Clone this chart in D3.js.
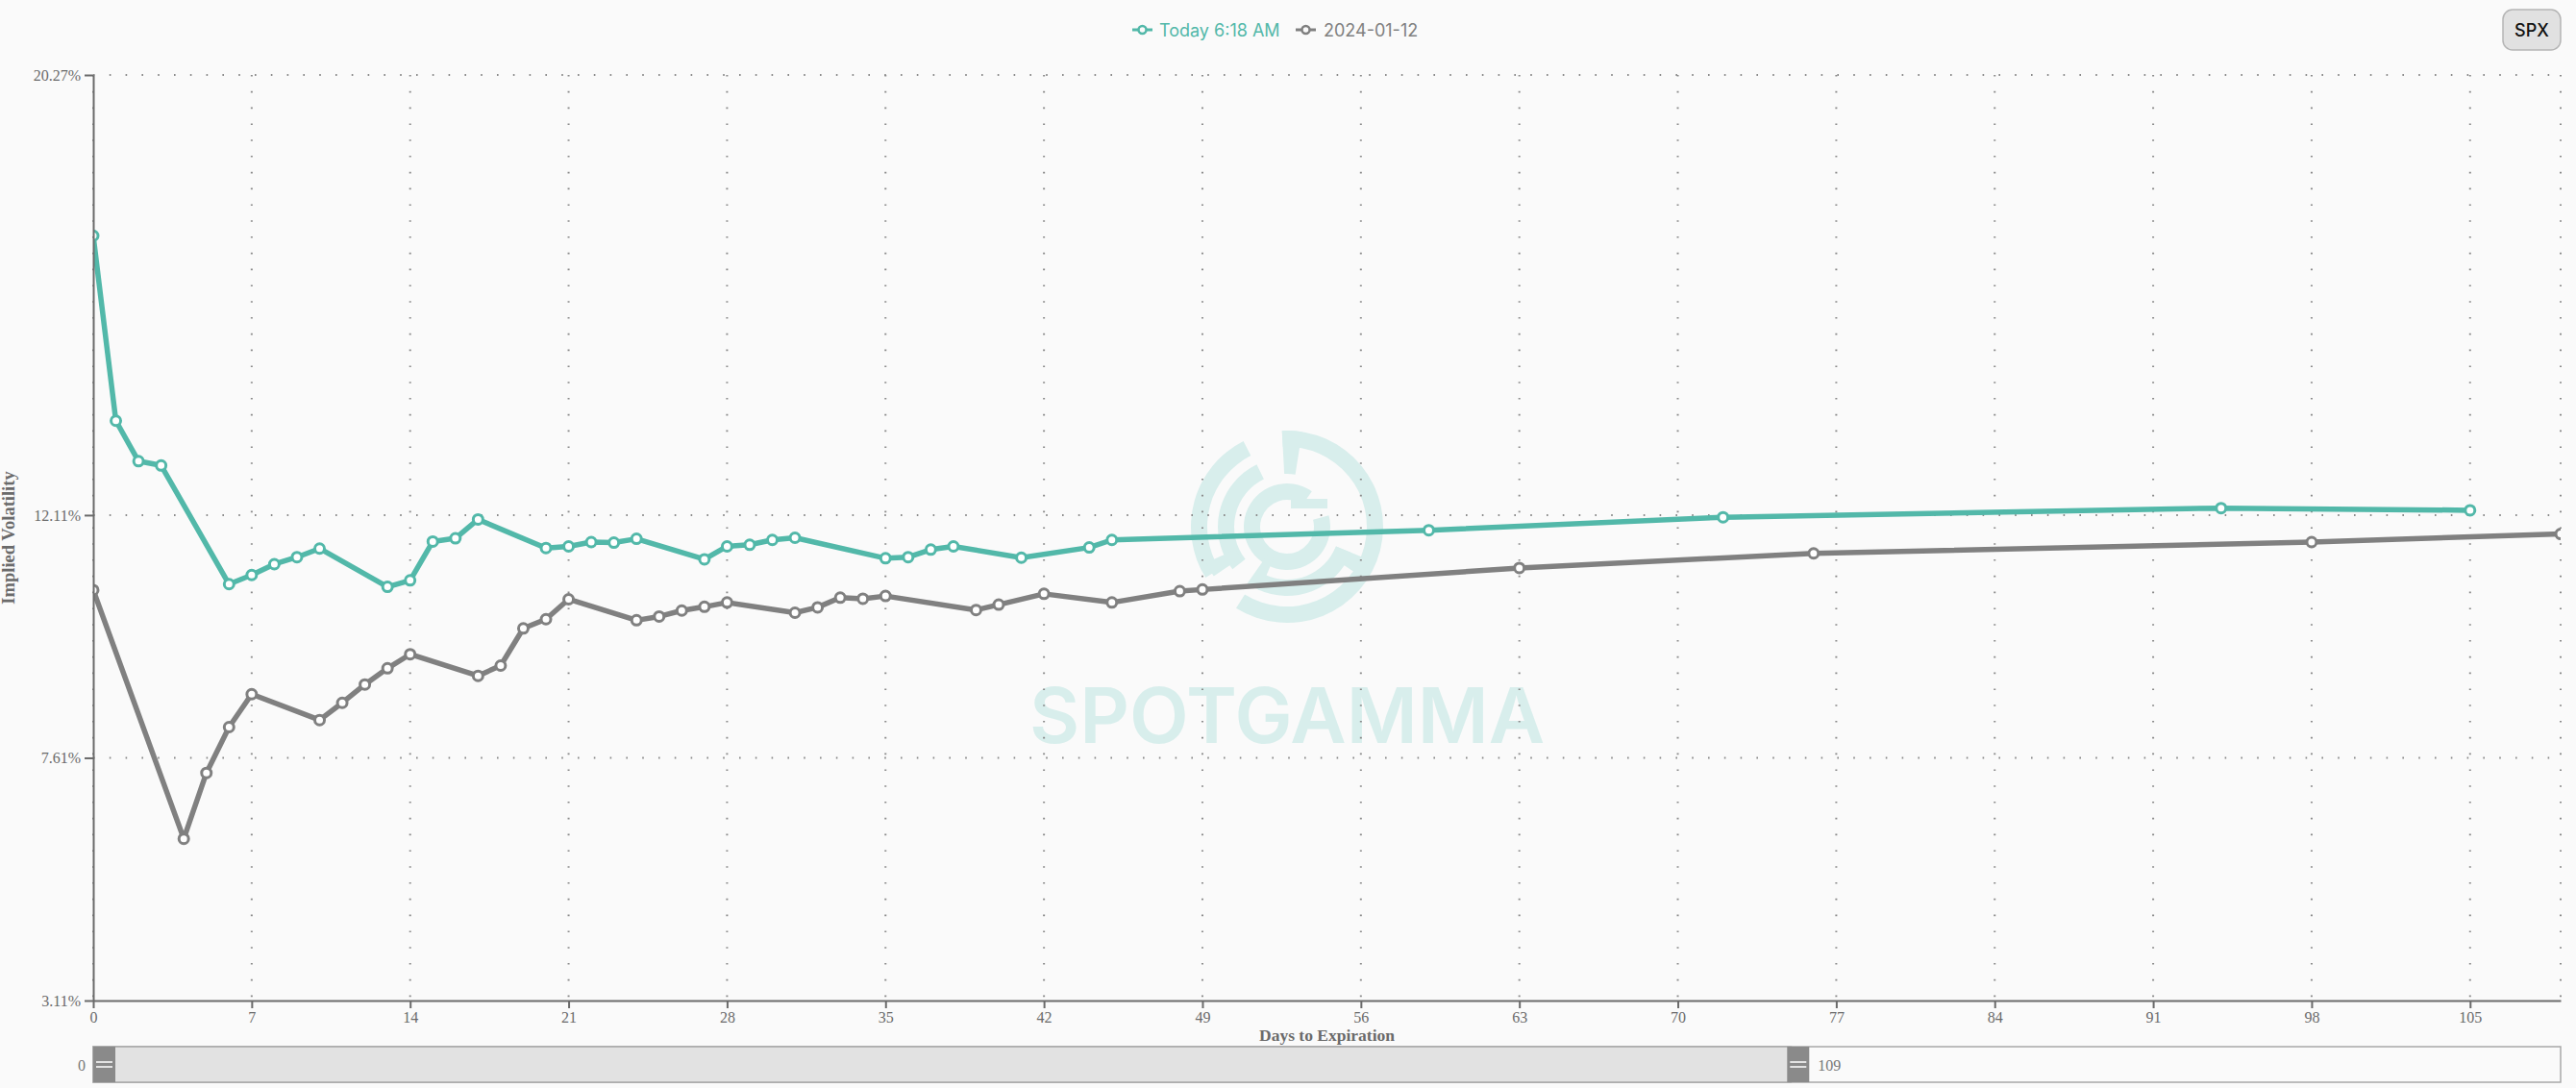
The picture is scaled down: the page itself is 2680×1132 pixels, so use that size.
<!DOCTYPE html>
<html>
<head>
<meta charset="utf-8">
<script src="https://cdn.jsdelivr.net/npm/d3@7"></script>
<style>
  body { margin: 0; background: #fafafa; }
  svg { display: block; }
</style>
</head>
<body>
<svg id="chart"></svg>
<script>
// term structure: days to expiration -> implied vol (%)
var todayDays = [0, 1, 2, 3, 6, 7, 8, 9, 10, 13, 14, 15, 16, 17, 20, 21, 22, 23, 24, 27, 28, 29, 30, 31, 35, 36, 37, 38, 41, 44, 45, 59, 72, 94, 105];
var todayVol  = [17.29, 13.86, 13.11, 13.03, 10.83, 11.0, 11.2, 11.33, 11.49, 10.78, 10.9, 11.62, 11.68, 12.03, 11.5, 11.53, 11.61, 11.6, 11.67, 11.29, 11.53, 11.56, 11.65, 11.69, 11.31, 11.33, 11.47, 11.53, 11.32, 11.51, 11.65, 11.83, 12.07, 12.24, 12.2];

var prevDays = [0, 4, 5, 6, 7, 10, 11, 12, 13, 14, 17, 18, 19, 20, 21, 24, 25, 26, 27, 28, 31, 32, 33, 34, 35, 39, 40, 42, 45, 48, 49, 63, 76, 98, 109];
var prevVol  = [10.72, 6.11, 7.33, 8.18, 8.79, 8.31, 8.63, 8.97, 9.27, 9.53, 9.13, 9.32, 10.01, 10.18, 10.55, 10.16, 10.23, 10.34, 10.41, 10.49, 10.30, 10.40, 10.58, 10.56, 10.61, 10.35, 10.45, 10.65, 10.49, 10.70, 10.73, 11.13, 11.40, 11.61, 11.76];

var seriesNames = ['Today 6:18 AM', '2024-01-12'];
var seriesColors = ['#52b8a9', '#808080'];

var xTicks = [0, 7, 14, 21, 28, 35, 42, 49, 56, 63, 70, 77, 84, 91, 98, 105];
var yTicks = [3.11, 7.61, 12.11, 20.27];
var xDomain = [0, 109];
var sliderSel = [0, 75];

var W = 2680, H = 1132;
var margin = {top: 78, right: 16, bottom: 91, left: 97};
var plotW = W - margin.left - margin.right,
    plotH = H - margin.top - margin.bottom;

var svg = d3.select('#chart').attr('width', W).attr('height', H);
svg.append('rect').attr('width', W).attr('height', H).attr('fill', '#fafafa');

var x = d3.scaleLinear().domain(xDomain).range([margin.left, margin.left + plotW]);
var y = d3.scaleLinear().domain([yTicks[0], yTicks[yTicks.length - 1]]).range([margin.top + plotH, margin.top]);

var series = [
  {name: seriesNames[0], color: seriesColors[0], pts: todayDays.map((d, i) => ({day: d, vol: todayVol[i]}))},
  {name: seriesNames[1], color: seriesColors[1], pts: prevDays.map((d, i) => ({day: d, vol: prevVol[i]}))}
];

// ---- watermark (spotgamma logo) ----
var wm = svg.append('g').attr('fill', '#d8eeec');
var cx = 1339, cy = 548;
var logoParts = [
  [83, 100, -3, 212],
  [83, 100, 238, 333],
  [55, 100, -3, 9],
  [55, 72, 232, 334],
  [55, 72, 112, 205],
  [55, 84, 112, 124],
  [58, 92, 236, 246],
  [28, 45, 75, 395],
  [36, 72, 203, 215]
];
var arc = d3.arc();
logoParts.forEach(p => {
  wm.append('path')
    .attr('transform', 'translate(' + cx + ',' + cy + ')')
    .attr('d', arc({innerRadius: p[0], outerRadius: p[1], startAngle: p[2] * Math.PI / 180, endAngle: p[3] * Math.PI / 180}));
});
wm.append('rect').attr('x', cx + 4).attr('y', cy - 29).attr('width', 38).attr('height', 10);
wm.append('text')
  .attr('x', 1071).attr('y', 773)
  .attr('textLength', 536).attr('lengthAdjust', 'spacingAndGlyphs')
  .style('font-family', 'Inter, Lato, sans-serif')
  .style('font-size', '80px')
  .style('font-weight', 600)
  .text('SPOTGAMMA');

// ---- grid ----
var grid = svg.append('g').attr('class', 'grid');
grid.selectAll('.vg')
  .data(xTicks.concat([xDomain[1]]))
  .enter().append('line')
  .attr('x1', d => x(d)).attr('x2', d => x(d))
  .attr('y1', margin.top).attr('y2', margin.top + plotH);
grid.selectAll('.hg')
  .data(yTicks.slice(1))
  .enter().append('line')
  .attr('x1', margin.left).attr('x2', margin.left + plotW)
  .attr('y1', d => y(d)).attr('y2', d => y(d));
grid.selectAll('line')
  .attr('stroke', '#8a8a8a')
  .attr('stroke-width', 2)
  .attr('stroke-dasharray', '1.6,15.2');

// ---- lines ----
svg.append('clipPath').attr('id', 'plotclip')
  .append('rect')
  .attr('x', margin.left).attr('y', margin.top - 20)
  .attr('width', plotW).attr('height', plotH + 20);

var line = d3.line().x(d => x(d.day)).y(d => y(d.vol));
var plot = svg.append('g').attr('clip-path', 'url(#plotclip)');

series.slice().reverse().forEach(s => {
  plot.append('path')
    .datum(s.pts)
    .attr('fill', 'none')
    .attr('stroke', s.color)
    .attr('stroke-width', 5.5)
    .attr('stroke-linejoin', 'round')
    .attr('d', line);
  plot.selectAll(null)
    .data(s.pts)
    .enter().append('circle')
    .attr('cx', d => x(d.day))
    .attr('cy', d => y(d.vol))
    .attr('r', 5)
    .attr('fill', '#fff')
    .attr('stroke', s.color)
    .attr('stroke-width', 3);
});

// ---- axes ----
var xAxis = svg.append('g')
  .attr('transform', 'translate(0,' + (margin.top + plotH) + ')')
  .call(d3.axisBottom(x).tickValues(xTicks).tickSize(8).tickSizeOuter(0).tickPadding(4));
var yAxis = svg.append('g')
  .attr('transform', 'translate(' + margin.left + ',0)')
  .call(d3.axisLeft(y).tickValues(yTicks).tickSize(9).tickSizeOuter(0).tickPadding(4)
    .tickFormat(d => d.toFixed(2) + '%'));

[xAxis, yAxis].forEach(a => {
  a.select('.domain').attr('stroke', '#6a6a6a').attr('stroke-width', 2);
  a.selectAll('.tick line').attr('stroke', '#6a6a6a').attr('stroke-width', 2);
  a.selectAll('.tick text')
    .attr('fill', '#6a6a6a')
    .style('font-family', '"Liberation Serif", "DejaVu Serif", serif')
    .style('font-size', '16px');
});

svg.append('text')
  .attr('x', (margin.left + margin.left + plotW) / 2)
  .attr('y', 1083)
  .attr('text-anchor', 'middle')
  .attr('fill', '#6a6a6a')
  .style('font-family', '"Liberation Serif", serif')
  .style('font-size', '17.5px')
  .style('font-weight', 'bold')
  .text('Days to Expiration');

svg.append('text')
  .attr('transform', 'translate(15,' + (margin.top + plotH / 2) + ') rotate(-90)')
  .attr('text-anchor', 'middle')
  .attr('fill', '#6a6a6a')
  .style('font-family', '"Liberation Serif", serif')
  .style('font-size', '18.5px')
  .style('font-weight', 'bold')
  .text('Implied Volatility');

// ---- legend ----
var legendX = [1178, 1348];
var legend = svg.append('g');
series.forEach((s, i) => {
  var g = legend.append('g').attr('transform', 'translate(' + legendX[i] + ',31)');
  g.append('line').attr('x1', 0).attr('x2', 21).attr('stroke', s.color).attr('stroke-width', 3);
  g.append('circle').attr('cx', 10.5).attr('r', 4).attr('fill', '#fafafa')
    .attr('stroke', s.color).attr('stroke-width', 2.5);
  g.append('text')
    .attr('x', i === 0 ? 28 : 29).attr('y', 6.5)
    .attr('fill', s.color)
    .style('font-family', 'Inter, Roboto, sans-serif')
    .style('font-size', '18px')
    .text(s.name);
});

// ---- SPX button ----
var btn = svg.append('g');
btn.append('rect')
  .attr('x', 2604).attr('y', 10).attr('width', 60).attr('height', 42).attr('rx', 10)
  .attr('fill', '#e1e1e1').attr('stroke', '#b5b5b5').attr('stroke-width', 1.5);
btn.append('text')
  .attr('x', 2634).attr('y', 38).attr('text-anchor', 'middle')
  .attr('fill', '#111')
  .style('font-family', 'Inter, Roboto, sans-serif')
  .style('font-size', '18px')
  .style('font-weight', 500)
  .text('SPX');

// ---- range slider ----
var sy = 1089, sh = 37, hw = 23;
var slider = svg.append('g');
slider.append('rect')
  .attr('x', x(xDomain[0])).attr('y', sy).attr('width', x(xDomain[1]) - x(xDomain[0])).attr('height', sh)
  .attr('fill', '#fafafa').attr('stroke', '#a8a8a8').attr('stroke-width', 1.5);
slider.append('rect')
  .attr('x', x(sliderSel[0])).attr('y', sy).attr('width', x(sliderSel[1]) - x(sliderSel[0])).attr('height', sh)
  .attr('fill', '#e2e2e2').attr('stroke', '#a8a8a8').attr('stroke-width', 1.5);
[x(sliderSel[0]), x(sliderSel[1]) - 4].forEach(hx => {
  slider.append('rect').attr('x', hx).attr('y', sy).attr('width', hw).attr('height', sh).attr('fill', '#8a8a8a');
  [-2.5, 2.5].forEach(off => {
    slider.append('line')
      .attr('x1', hx + 3).attr('x2', hx + hw - 3)
      .attr('y1', sy + sh / 2 + off).attr('y2', sy + sh / 2 + off)
      .attr('stroke', '#fff').attr('stroke-width', 1.5);
  });
});
slider.append('text')
  .attr('x', x(sliderSel[0]) - 8).attr('y', sy + sh / 2 + 6)
  .attr('text-anchor', 'end')
  .text(xDomain[0]);
slider.append('text')
  .attr('x', x(sliderSel[1]) + hw + 5).attr('y', sy + sh / 2 + 6)
  .text(xDomain[1]);
slider.selectAll('text')
  .attr('fill', '#777')
  .style('font-family', '"Liberation Serif", serif')
  .style('font-size', '16px');
</script>
</body>
</html>
